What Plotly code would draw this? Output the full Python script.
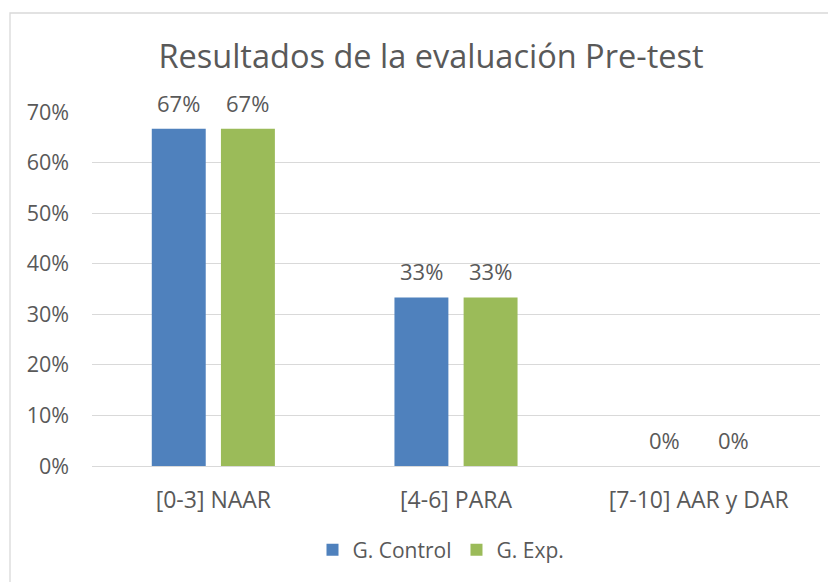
import plotly.graph_objects as go

categories = ["[0-3] NAAR", "[4-6] PARA", "[7-10] AAR y DAR"]
control_values = [0.6667, 0.3333, 0.0]
exp_values = [0.6667, 0.3333, 0.0]
series_names = ["G. Control", "G. Exp."]
y_ticks = [0, 0.1, 0.2, 0.3, 0.4, 0.5, 0.6, 0.7]

FONT = "'Open Sans', sans-serif"
TXT = "#595959"
OFF = 8  # page offset

W, H = 836, 582
L, R, T, B = 92 - OFF, 836 - 820 + OFF, 112 - OFF, 582 - 466 + OFF
pw, ph = W - L - R, H - T - B
BARGAP, GROUPGAP = 0.43, 0.22

fig = go.Figure()
for name, vals, col in [(series_names[0], control_values, "#4F81BD"),
                        (series_names[1], exp_values, "#9BBB59")]:
    fig.add_trace(go.Bar(x=categories, y=vals, name=name,
                         marker=dict(color=col, line=dict(width=0)),
                         hoverinfo="x+y"))

# data labels
slot_px = pw / len(categories) * (1 - BARGAP) / 2
for i, vals in enumerate([control_values, exp_values]):
    shift = (i - 0.5) * slot_px
    for c, v in zip(categories, vals):
        fig.add_annotation(x=c, y=v, xref="x", yref="y", text=f"{v:.0%}",
                           showarrow=False, xshift=shift, yshift=26,
                           yanchor="middle", xanchor="center",
                           font=dict(size=22, color=TXT, family=FONT))

fig.update_layout(
    width=W, height=H,
    margin=dict(l=L, r=R, t=T, b=B),
    paper_bgcolor="white", plot_bgcolor="white",
    barmode="group", bargap=BARGAP, bargroupgap=GROUPGAP,
    font=dict(family=FONT, color=TXT, size=21),
    title=dict(text="Resultados de la evaluación Pre-test", x=(431 - OFF) / W, xanchor="center",
               xref="container", y=1 - (57 - OFF) / H, yanchor="middle",
               font=dict(size=32.5, color=TXT, family=FONT)),
    legend=dict(orientation="h", x=(441 - 92) / pw, xanchor="center", y=-(550 - 466) / ph,
                yanchor="middle", font=dict(size=21, color=TXT, family=FONT),
                itemwidth=30, traceorder="normal"),
    showlegend=True,
)
fig.update_yaxes(range=[0, 0.7], tickvals=y_ticks, tickformat=".0%",
                 showgrid=True, gridcolor="#D9D9D9", gridwidth=1.3,
                 zeroline=False, showline=False, ticks="",
                 ticklabelstandoff=22, tickfont=dict(size=21.5, color=TXT))
fig.update_xaxes(showgrid=False, showline=True, linecolor="#D9D9D9", linewidth=1.3,
                 ticks="", ticklabelstandoff=13, tickfont=dict(size=23, color=TXT))

# outer chart border
fig.add_shape(type="rect", xref="paper", yref="paper",
              x0=(10 - OFF - L) / pw, x1=1 + (R + 20) / pw,
              y0=-(B + 20) / ph, y1=1 + (T - (13 - OFF)) / ph,
              line=dict(color="#D9D9D9", width=1.3), fillcolor="rgba(0,0,0,0)", layer="below")

fig.write_html("out.html")
